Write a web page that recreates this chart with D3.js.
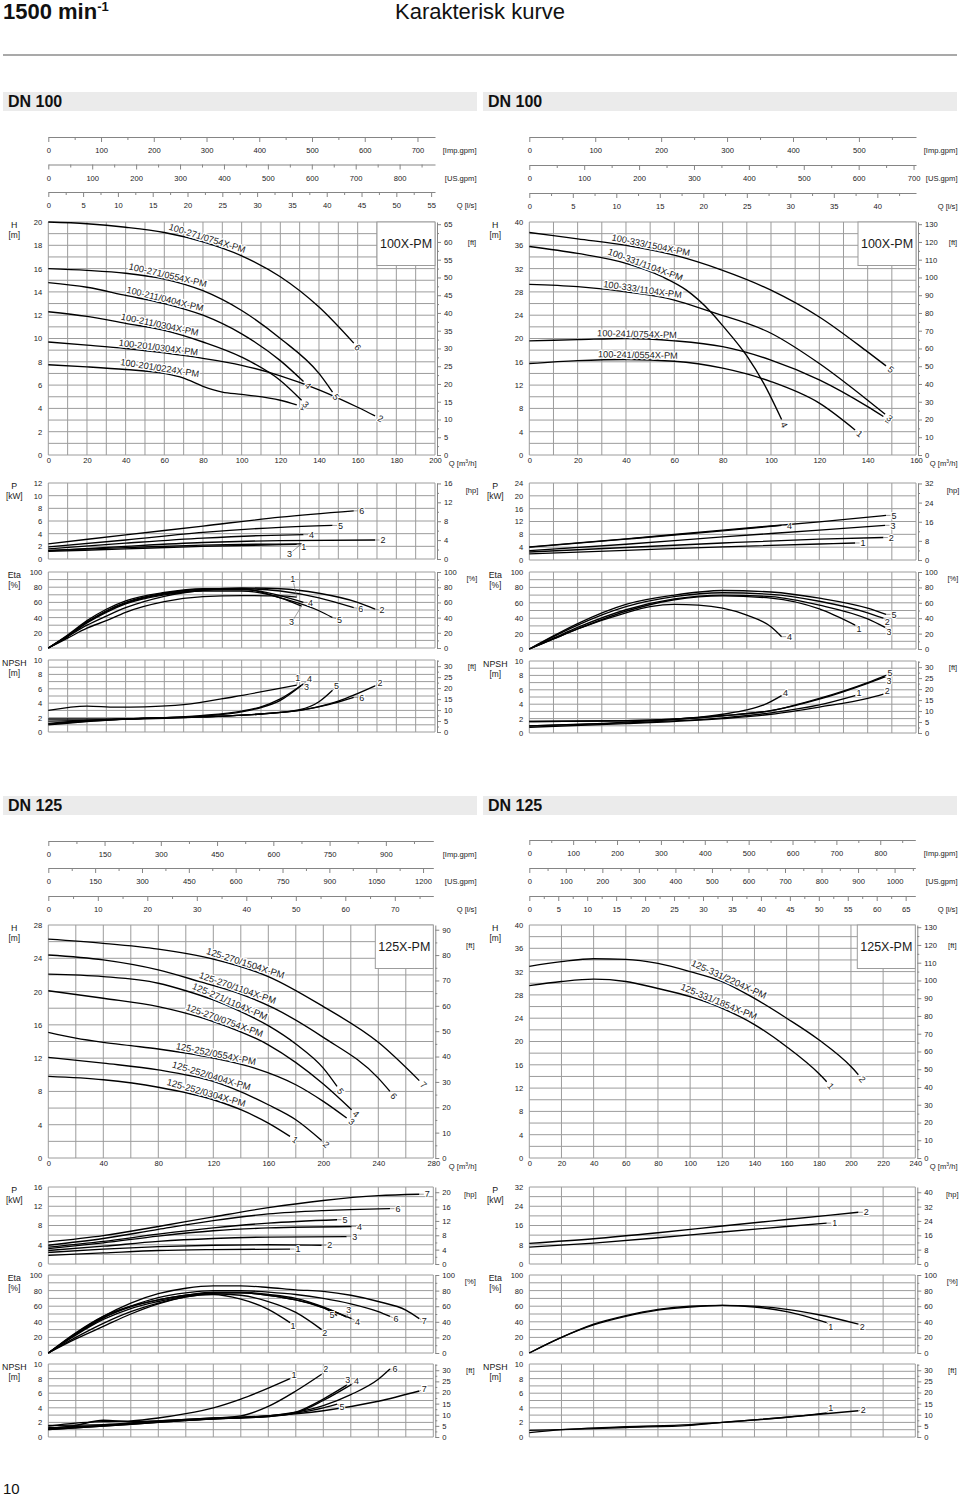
<!DOCTYPE html>
<html><head><meta charset="utf-8">
<script src="https://cdn.jsdelivr.net/npm/d3@7"></script>
<style>
body{margin:0;background:#fff;}
svg{display:block;font-family:"Liberation Sans",Arial,sans-serif;}
</style></head><body>
<svg id="c" width="960" height="1497"></svg>
<script>
// ================= DATA =================
// DN 100 left (Q in m3/h)
const dn100L_ids = [1,2,3,4,5,6];
const dn100L_names = ["100-201/0224X-PM","100-201/0304X-PM","100-211/0304X-PM","100-211/0404X-PM","100-271/0554X-PM","100-271/0754X-PM"];
const dn100L_H = [
 [[0,7.75],[20,7.57],[40,7.34],[60,7.0],[70,6.6],[80,5.9],[90,5.4],[100,5.2],[120,4.7],[128.5,4.3]],
 [[0,9.7],[20,9.43],[40,9.14],[60,8.77],[80,8.3],[100,7.7],[120,6.8],[140,5.6],[160,4.1],[169,3.35]],
 [[0,12.3],[20,11.9],[40,11.3],[60,10.7],[80,9.7],[100,8.4],[120,6.4],[131,4.7]],
 [[0,14.8],[20,14.4],[40,13.7],[60,13.0],[80,12.0],[100,10.4],[120,8.1],[132,6.3]],
 [[0,16],[20,15.85],[40,15.6],[60,15.1],[80,14.1],[100,12.4],[120,10.0],[140,7.0],[147,5.4]],
 [[0,20],[20,19.85],[40,19.55],[60,19.1],[80,18.3],[100,17.1],[120,15.3],[140,12.7],[158,9.6]]
];
const dn100L_P = [
 [[0,1.2],[40,1.6],[80,2.0],[128.5,2.3]],
 [[0,1.3],[40,2.0],[80,2.6],[120,2.9],[169,3.0]],
 [[0,1.35],[40,1.8],[80,2.2],[131,2.4]],
 [[0,1.6],[40,2.5],[80,3.3],[110,3.7],[132,3.85]],
 [[0,1.9],[40,3.0],[80,4.2],[120,5.0],[147,5.3]],
 [[0,2.4],[40,3.8],[80,5.2],[120,6.6],[158,7.6]]
];
const dn100L_Eta = [
 [[0,0],[10,13],[20,26],[30,36],[40,47],[60,61],[80,67.5],[100,69],[120,68.5],[128.5,67]],
 [[0,0],[10,15],[20,30],[30,42],[40,53],[60,68],[80,76],[100,79],[120,78],[140,72],[160,60],[169,51]],
 [[0,0],[10,15],[20,33],[30,47],[40,58],[60,70],[80,75],[100,75],[120,66],[131,55]],
 [[0,0],[10,16],[20,34],[30,49],[40,60],[60,72],[80,77],[100,77],[120,69],[132,60]],
 [[0,0],[10,17],[20,36],[30,51],[40,62],[60,73],[80,78],[100,78],[120,66],[140,49],[147,40]],
 [[0,0],[10,16],[20,34],[30,48],[40,59],[60,71],[80,76],[100,78],[120,75],[140,66],[158,53]]
];
const dn100L_NPSH = [
 [[0,3.0],[20,3.6],[35,3.45],[50,3.5],[70,3.8],[96,4.9],[128.5,6.5]],
 [[0,1.0],[40,1.8],[80,2.1],[110,2.5],[130,3.0],[150,4.3],[169,6.4]],
 [[0,1.5],[20,1.6],[40,1.8],[60,2.0],[80,2.2],[100,2.8],[110,3.4],[120,4.4],[131,6.5]],
 [[0,1.2],[20,1.6],[40,1.8],[60,2.0],[80,2.3],[100,2.9],[110,3.5],[120,4.6],[132,6.7]],
 [[0,1.1],[40,1.8],[80,2.1],[110,2.5],[130,3.1],[140,4.2],[147,5.8]],
 [[0,1.8],[40,1.8],[80,2.1],[110,2.5],[130,3.0],[145,3.8],[158,4.8]]
];

// DN 100 right
const dn100R_ids = [1,2,3,4,5];
const dn100R_names = ["100-241/0554X-PM","100-241/0754X-PM","100-333/1104X-PM","100-331/1104X-PM","100-333/1504X-PM"];
const dn100R_H = [
 [[0,15.7],[20,16.2],[40,16.4],[60,16.1],[80,14.9],[100,12.6],[120,8.9],[134.8,4.3]],
 [[0,19.6],[20,19.8],[40,20.0],[60,19.6],[80,18.6],[100,16.3],[120,12.9],[140,8.3],[146.5,6.6]],
 [[0,29.3],[20,28.9],[40,28.0],[60,26.6],[75,24.6],[100,20.9],[120,15.7],[140,9.4],[147.2,7.0]],
 [[0,35.8],[20,34.6],[40,32.9],[55,30.6],[65,28.3],[75,24.6],[80,22.2],[90,17.0],[97,12.3],[104.4,6.1]],
 [[0,38.2],[20,37.1],[40,36.0],[60,34.3],[80,31.7],[100,28.3],[120,23.7],[140,17.7],[147.6,15.3]]
];
const dn100R_P = [
 [[0,1.9],[40,3.0],[80,4.1],[120,5.0],[134.8,5.3]],
 [[0,2.5],[40,3.9],[80,5.3],[120,6.5],[146.5,7.0]],
 [[0,2.9],[40,4.9],[80,7.2],[120,9.3],[147.2,10.8]],
 [[0,4.0],[40,6.5],[80,9.1],[104.4,10.8]],
 [[0,4.1],[40,6.6],[80,9.3],[120,11.9],[147.6,13.9]]
];
const dn100R_Eta = [
 [[0,0],[10,13],[20,26],[40,49],[60,64],[80,69],[100,66],[120,52],[134.8,31]],
 [[0,0],[10,16],[20,31],[40,55],[60,68],[80,73],[100,71],[120,62],[140,47],[146.5,40]],
 [[0,0],[10,14],[20,28],[40,51],[60,65],[80,70],[100,68],[120,57],[140,39],[147.2,28]],
 [[0,0],[10,13],[20,26],[40,47],[50,55],[60,58],[70,57],[80,53],[90,44],[100,29],[104.4,16]],
 [[0,0],[10,17],[20,33],[40,58],[60,70],[80,76],[100,74],[120,66],[140,53],[147.6,45]]
];
const dn100R_NPSH = [
 [[0,1.0],[40,1.4],[80,2.1],[100,2.8],[120,3.9],[134.8,5.2]],
 [[0,0.8],[40,1.3],[80,2.0],[100,2.6],[120,3.6],[140,4.8],[146.5,5.4]],
 [[0,1.6],[40,1.7],[80,2.4],[100,3.1],[120,4.7],[140,6.9],[147.2,7.8]],
 [[0,1.0],[40,1.5],[80,2.6],[90,3.2],[97,3.9],[104.4,5.2]],
 [[0,1.6],[40,1.7],[80,2.4],[100,3.1],[120,4.8],[140,7.0],[147.6,8.0]]
];

// DN 125 left
const dn125L_ids = [1,2,3,4,5,6,7];
const dn125L_names = ["125-252/0304X-PM","125-252/0404X-PM","125-252/0554X-PM","125-270/0754X-PM","125-271/1104X-PM","125-270/1104X-PM","125-270/1504X-PM"];
const dn125L_H = [
 [[0,9.8],[40,9.4],[80,8.5],[120,7.0],[140,5.8],[160,4.2],[175.8,2.6]],
 [[0,12.1],[40,11.4],[80,10.6],[120,9.2],[160,6.4],[180,4.6],[198.8,2.1]],
 [[0,15.1],[20,14.4],[40,13.9],[60,13.5],[80,13.1],[100,12.6],[120,12.0],[150,10.8],[180,8.8],[200,6.8],[217,4.8]],
 [[0,20.1],[40,19.2],[80,18.2],[120,16.4],[160,13.6],[200,8.9],[220.6,5.8]],
 [[0,22.1],[40,21.8],[80,21.0],[100,20.1],[120,19.0],[140,17.6],[160,15.9],[180,13.7],[200,10.8],[210,8.6]],
 [[0,24.4],[40,23.8],[80,22.6],[110,21.2],[140,19.7],[164,18.0],[200,14.5],[240,9.6],[248.5,8.0]],
 [[0,26.3],[40,25.8],[80,25.1],[120,23.9],[160,21.8],[200,18.2],[240,13.9],[269.8,9.3]]
];
const dn125L_P = [
 [[0,1.8],[40,2.3],[80,2.8],[120,3.0],[175.8,3.1]],
 [[0,2.4],[40,3.1],[80,3.6],[120,3.9],[160,4.0],[198.8,3.9]],
 [[0,2.8],[40,3.7],[80,4.7],[120,5.3],[160,5.6],[217,5.7]],
 [[0,3.2],[40,4.4],[80,5.8],[120,6.9],[160,7.5],[220.6,7.8]],
 [[0,3.5],[40,4.7],[80,6.2],[120,7.5],[160,8.5],[210,9.2]],
 [[0,3.9],[40,5.3],[80,7.2],[120,9.0],[160,10.4],[200,11.1],[248.5,11.5]],
 [[0,4.6],[40,5.9],[80,7.8],[120,9.8],[160,11.7],[200,13.2],[240,14.2],[269.8,14.5]]
];
const dn125L_Eta = [
 [[0,0],[20,18],[40,34],[60,50],[80,63],[100,72],[120,75],[140,69],[160,56],[175.8,39]],
 [[0,0],[20,20],[40,38],[60,53],[80,64],[100,72],[120,76],[140,74],[160,66],[180,52],[198.8,30]],
 [[0,0],[20,24],[40,45],[60,59],[80,68],[100,74],[120,78],[140,78],[160,75],[180,70],[200,59],[217,46]],
 [[0,0],[20,23],[40,43],[60,57],[80,66],[100,73],[120,77],[140,77],[160,74],[180,68],[200,58],[220.6,44]],
 [[0,0],[20,26],[40,47],[60,60],[80,68],[100,74],[120,77],[140,77],[160,74],[180,68],[200,58],[210,48]],
 [[0,0],[20,24],[40,45],[60,60],[80,71],[100,77],[120,80],[140,80],[160,78],[180,75],[200,70],[220,63],[240,53],[248.5,47]],
 [[0,0],[20,25],[40,47],[60,64],[80,76],[100,83],[120,86],[140,86],[160,84],[180,81],[200,79],[220,74],[240,66],[260,55],[269.8,44]]
];
const dn125L_NPSH = [
 [[0,1.5],[20,1.9],[40,2.1],[60,2.2],[80,2.6],[100,3.2],[120,4.0],[140,5.2],[160,6.7],[175.8,8.0]],
 [[0,1.2],[20,1.6],[40,2.3],[60,2.1],[80,2.2],[100,2.4],[120,2.6],[140,2.9],[160,4.2],[180,6.3],[198.8,8.6]],
 [[0,1.1],[40,1.6],[80,2.1],[120,2.5],[160,2.8],[180,3.4],[200,5.2],[217,7.1]],
 [[0,1.0],[40,1.5],[80,2.0],[120,2.5],[160,2.8],[180,3.3],[200,5.0],[220.6,7.2]],
 [[0,1.0],[40,1.5],[80,2.0],[120,2.5],[160,2.9],[180,3.3],[200,4.0],[210,4.5]],
 [[0,1.3],[40,1.6],[80,2.1],[120,2.5],[160,2.9],[180,3.4],[200,4.3],[220,5.8],[240,7.9],[248.5,9.3]],
 [[0,1.6],[40,1.7],[80,2.2],[120,2.6],[160,2.9],[200,3.6],[240,4.9],[269.8,6.3]]
];

// DN 125 right
const dn125R_ids = [1,2];
const dn125R_names = ["125-331/1854X-PM","125-331/2204X-PM"];
const dn125R_H = [
 [[0,29.6],[20,30.3],[40,30.7],[60,30.3],[80,29.1],[100,27.7],[120,25.7],[140,22.9],[160,19.1],[180,14.5],[184.9,13.1]],
 [[0,32.9],[20,33.7],[40,34.2],[60,34.1],[80,33.4],[100,32.0],[120,30.3],[140,27.4],[160,24.0],[180,20.3],[200,15.7],[204.6,14.3]]
];
const dn125R_P = [
 [[0,7.0],[40,8.7],[80,10.9],[120,13.3],[160,15.6],[184.9,17.0]],
 [[0,8.6],[40,10.5],[80,13.0],[120,15.8],[160,18.5],[204.6,21.5]]
];
const dn125R_Eta = [
 [[0,0],[20,20],[40,36],[60,47],[80,55],[100,59],[120,61],[140,59],[160,53],[184.9,39]],
 [[0,0],[20,20],[40,37],[60,48],[80,56],[100,60],[120,61],[140,60],[160,56],[180,49],[204.6,37]]
];
const dn125R_NPSH = [
 [[0,0.9],[20,1.0],[60,1.3],[100,1.6],[120,2.0],[160,2.7],[184.9,3.3]],
 [[0,0.6],[20,1.0],[60,1.4],[100,1.7],[120,2.0],[160,2.7],[204.6,3.6]]
];

// unit conversions
const FT = 3.28084, HP = 1.34102, IMP = 0.272765, USG = 0.227125, LS = 3.6;

// ================= LAYOUT =================
const svg = d3.select("#c");
const TXT = "#1a1a1a", GRID = "#9c9c9c", AX = "#858585";

function styleAxis(sel, fs) {
  sel.attr("font-family", null).attr("font-size", null);
  sel.selectAll("text").attr("font-size", fs || 7.6).attr("fill", TXT);
  sel.selectAll("line").attr("stroke", AX);
  sel.select(".domain").attr("stroke", AX);
}

function pointAtX(node, xt) {
  const L = node.getTotalLength();
  let lo = 0, hi = L;
  for (let i = 0; i < 40; i++) { const m = (lo + hi) / 2; if (node.getPointAtLength(m).x < xt) lo = m; else hi = m; }
  const p = node.getPointAtLength(lo);
  const a = node.getPointAtLength(Math.max(0, lo - 10)), b = node.getPointAtLength(Math.min(L, lo + 10));
  return {x: p.x, y: p.y, ang: Math.atan2(b.y - a.y, b.x - a.x) * 180 / Math.PI};
}

function drawChart(c) {
  const g = svg.append("g");
  const x = d3.scaleLinear().domain([0, c.qMax]).range([c.x0, c.x1]);
  const colR = c.x0 - 48.3 + 476.5;

  // --- top flow axes ---
  [[c.yImp, IMP, c.imp, "[Imp.gpm]"], [c.yUs, USG, c.us, "[US.gpm]"], [c.yLs, LS, c.ls, "Q [l/s]"]].forEach(([yy, f, st, lab]) => {
    const s = d3.scaleLinear().domain([0, c.qMax / f]).range([c.x0, c.x1]);
    const majors = d3.range(0, st[1] + 1e-6, st[0]);
    const minors = d3.range(st[0] / 2, c.qMax / f, st[0]);
    const a1 = g.append("g").attr("transform", `translate(0,${yy})`)
      .call(d3.axisBottom(s).tickValues(minors).tickSize(3).tickSizeOuter(0).tickFormat(""));
    styleAxis(a1);
    const a2 = g.append("g").attr("transform", `translate(0,${yy})`)
      .call(d3.axisBottom(s).tickValues(majors).tickSize(5).tickSizeOuter(0).tickPadding(6).tickFormat(d3.format("d")));
    styleAxis(a2);
    a2.select(".domain").remove();
    g.append("text").attr("x", colR).attr("y", yy + 16).attr("text-anchor", "end")
      .attr("font-size", 7.6).attr("fill", TXT).text(lab);
  });

  const panels = [
    {key: "H", top: c.hTop, bot: c.hBot, max: c.hMax, lbl: c.hLabel, grid: c.hGrid, rf: FT, rst: c.ft, runit: "[ft]", rdy: 23, t1: "H", t2: "[m]", data: c.H},
    {key: "P", top: c.pTop, bot: c.pBot, max: c.pMax, lbl: c.pLabel, grid: c.pGrid, rf: HP, rst: c.hp, runit: "[hp]", rdy: 10, t1: "P", t2: "[kW]", data: c.P},
    {key: "E", top: c.eTop, bot: c.eBot, max: 100, lbl: 20, grid: 10, rf: 1, rst: [20, 100], runit: "[%]", rdy: 9, t1: "Eta", t2: "[%]", data: c.E},
    {key: "N", top: c.nTop, bot: c.nBot, max: 10, lbl: 2, grid: 1, rf: FT, rst: [5, 30], runit: "[ft]", rdy: 9, t1: "NPSH", t2: "[m]", data: c.N}
  ];

  panels.forEach(p => {
    const y = d3.scaleLinear().domain([0, p.max]).range([p.bot, p.top]);
    const pg = g.append("g");
    // grid
    pg.selectAll("line.h").data(d3.range(0, p.max + 1e-6, p.grid)).join("line")
      .attr("x1", c.x0).attr("x2", c.x1).attr("y1", d => y(d)).attr("y2", d => y(d))
      .attr("stroke", GRID).attr("stroke-width", 1);
    pg.selectAll("line.v").data(d3.range(0, c.qMax + 1e-6, c.qGrid)).join("line")
      .attr("x1", d => x(d)).attr("x2", d => x(d)).attr("y1", p.bot).attr("y2", p.top)
      .attr("stroke", GRID).attr("stroke-width", 1);
    // left axis
    const la = pg.append("g").attr("transform", `translate(${c.x0},0)`)
      .call(d3.axisLeft(y).tickValues(d3.range(0, p.max + 1e-6, p.lbl)).tickSize(0).tickPadding(6).tickFormat(d3.format("d")));
    styleAxis(la);
    la.select(".domain").remove();
    // right axis
    const yr = d3.scaleLinear().domain([0, p.max * p.rf]).range([p.bot, p.top]);
    const ra1 = pg.append("g").attr("transform", `translate(${c.x1 + 2},0)`)
      .call(d3.axisRight(yr).tickValues(d3.range(p.rst[0] / 2, p.max * p.rf, p.rst[0])).tickSize(2).tickSizeOuter(0).tickFormat(""));
    styleAxis(ra1);
    const ra2 = pg.append("g").attr("transform", `translate(${c.x1 + 2},0)`)
      .call(d3.axisRight(yr).tickValues(d3.range(0, p.rst[1] + 1e-6, p.rst[0])).tickSize(4).tickSizeOuter(0).tickPadding(3).tickFormat(d3.format("d")));
    styleAxis(ra2);
    ra2.select(".domain").remove();
    // titles
    pg.append("text").attr("x", c.x0 - 34).attr("y", p.top + 6).attr("text-anchor", "middle")
      .attr("font-size", 8.8).attr("fill", TXT).text(p.t1);
    pg.append("text").attr("x", c.x0 - 34).attr("y", p.top + 16).attr("text-anchor", "middle")
      .attr("font-size", 8.4).attr("fill", TXT).text(p.t2);
    pg.append("text").attr("x", c.x1 + 37).attr("y", p.top + p.rdy).attr("text-anchor", "middle")
      .attr("font-size", 7.6).attr("fill", TXT).text(p.runit);

    // bottom axis for H
    if (p.key === "H") {
      const ba = pg.append("g").attr("transform", `translate(0,${p.bot})`)
        .call(d3.axisBottom(x).tickValues(d3.range(0, c.qMax + 1e-6, c.qLabel)).tickSize(0).tickPadding(3).tickFormat(d3.format("d")));
      styleAxis(ba);
      ba.select(".domain").remove();
      const qt = pg.append("text").attr("x", colR).attr("y", p.bot + 11).attr("text-anchor", "end")
        .attr("font-size", 7.6).attr("fill", TXT);
      qt.append("tspan").text("Q [m");
      qt.append("tspan").attr("font-size", 5).attr("dy", -3).text("3");
      qt.append("tspan").attr("dy", 3).text("/h]");
      // model box
      pg.append("rect").attr("x", c.x1 - 58).attr("y", p.top).attr("width", 58).attr("height", 43.5)
        .attr("fill", "#fff").attr("stroke", GRID);
      pg.append("text").attr("x", c.x1 - 29).attr("y", p.top + 26).attr("text-anchor", "middle")
        .attr("font-size", 12.5).attr("fill", TXT).text(c.box);
    }

    // curves
    const line = d3.line().x(d => x(d[0])).y(d => y(d[1])).curve(d3.curveMonotoneX);
    const paths = p.data.map(d => pg.append("path").attr("d", line(d)).attr("fill", "none")
      .attr("stroke", "#000").attr("stroke-width", 1.35).node());

    if (p.key === "H") {
      paths.forEach((node, i) => {
        const pt = pointAtX(node, x(c.nameQ[i]));
        pg.append("text").attr("transform", `translate(${pt.x},${pt.y}) rotate(${pt.ang})`)
          .attr("dy", -1.5).attr("text-anchor", "middle").attr("font-size", c.nameFs)
          .attr("fill", TXT).attr("stroke", "#fff").attr("stroke-width", 2.5)
          .attr("paint-order", "stroke").text(c.names[i]);
        const L = node.getTotalLength();
        const e = node.getPointAtLength(L), b = node.getPointAtLength(L - 6);
        const dx = (e.x - b.x) / 6, dy = (e.y - b.y) / 6;
        const ang = Math.atan2(dy, dx) * 180 / Math.PI;
        pg.append("text").attr("transform", `translate(${e.x + dx * 6},${e.y + dy * 6}) rotate(${ang})`)
          .attr("dy", "0.35em").attr("text-anchor", "middle").attr("font-size", 9)
          .attr("fill", TXT).attr("stroke", "#fff").attr("stroke-width", 2).attr("paint-order", "stroke")
          .text(c.ids[i]);
      });
    } else {
      const nud = (c.nudge[p.key]) || {};
      paths.forEach((node, i) => {
        const e = node.getPointAtLength(node.getTotalLength());
        const o = nud[c.ids[i]] || [8, 0];
        const len = Math.hypot(o[0], o[1]);
        const k = Math.max(0, (len - 3.5) / len);
        pg.append("line").attr("x1", e.x).attr("y1", e.y).attr("x2", e.x + o[0] * k).attr("y2", e.y + o[1] * k)
          .attr("stroke", "#777").attr("stroke-width", 0.7);
        pg.append("text").attr("x", e.x + o[0]).attr("y", e.y + o[1]).attr("dy", "0.35em")
          .attr("text-anchor", "middle").attr("font-size", 9).attr("fill", TXT)
          .attr("stroke", "#fff").attr("stroke-width", 2).attr("paint-order", "stroke").text(c.ids[i]);
      });
    }
  });
}

// ---- page header ----
const t = svg.append("text").attr("x", 3).attr("y", 18.5).attr("font-size", 22).attr("font-weight", "bold").attr("fill", "#111");
t.append("tspan").text("1500 min");
t.append("tspan").attr("font-size", 13).attr("dy", -8).text("-1");
svg.append("text").attr("x", 395).attr("y", 19).attr("font-size", 22).attr("fill", "#111").text("Karakterisk kurve");
svg.append("line").attr("x1", 3).attr("x2", 957).attr("y1", 55).attr("y2", 55).attr("stroke", "#555").attr("stroke-width", 1.2);

[[3, 92, "DN 100", 107.3], [483, 92, "DN 100", 107.3], [3, 796, "DN 125", 810.7], [483, 796, "DN 125", 810.7]].forEach(([bx, by, s, bl]) => {
  svg.append("rect").attr("x", bx).attr("y", by).attr("width", 474).attr("height", 19).attr("fill", "#ebebeb");
  svg.append("text").attr("x", bx + 5).attr("y", bl).attr("font-size", 16).attr("font-weight", "bold").attr("fill", "#111").text(s);
});
svg.append("text").attr("x", 3).attr("y", 1494).attr("font-size", 15).attr("fill", "#111").text("10");

// ---- charts ----
drawChart({x0: 48.3, x1: 435, qMax: 200, qGrid: 10, qLabel: 20, yImp: 137, yUs: 164.5, yLs: 192,
  imp: [100, 700], us: [100, 800], ls: [5, 55],
  hTop: 222, hBot: 455, hMax: 20, hLabel: 2, hGrid: 1, ft: [5, 65],
  pTop: 483, pBot: 559, pMax: 12, pLabel: 2, pGrid: 2, hp: [4, 16],
  eTop: 572, eBot: 648, nTop: 660, nBot: 732, box: "100X-PM", nameFs: 9.2,
  ids: dn100L_ids, names: dn100L_names, H: dn100L_H, P: dn100L_P, E: dn100L_Eta, N: dn100L_NPSH,
  nameQ: [57.3, 56.7, 57.2, 59.8, 61.3, 81.5],
  nudge: {P: {3: [-12, 10], 1: [7, 2]}, E: {1: [-4, -18], 3: [-10, 16], 2: [7, 1], 6: [7, 1], 5: [7, 2], 4: [7, 0]},
          N: {1: [1, -7], 4: [6, -5], 3: [5, 2], 5: [4, -4], 2: [5, -3]}}});

drawChart({x0: 529.3, x1: 916, qMax: 160, qGrid: 10, qLabel: 20, yImp: 137, yUs: 165, yLs: 193,
  imp: [100, 500], us: [100, 700], ls: [5, 40],
  hTop: 222, hBot: 455, hMax: 40, hLabel: 4, hGrid: 2, ft: [10, 130],
  pTop: 483, pBot: 560, pMax: 24, pLabel: 4, pGrid: 4, hp: [8, 32],
  eTop: 572, eBot: 649, nTop: 661, nBot: 733, box: "100X-PM", nameFs: 9.2,
  ids: dn100R_ids, names: dn100R_names, H: dn100R_H, P: dn100R_P, E: dn100R_Eta, N: dn100R_NPSH,
  nameQ: [44.9, 44.5, 46.6, 47.4, 49.9],
  nudge: {E: {2: [4, 4], 3: [4, 4], 1: [4, 4]}, N: {5: [4, -3], 3: [4, 4], 2: [4, -3], 1: [4, -3], 4: [4, -3]}}});

drawChart({x0: 48.3, x1: 433.3, qMax: 280, qGrid: 20, qLabel: 40, yImp: 841, yUs: 868, yLs: 896,
  imp: [150, 900], us: [150, 1200], ls: [10, 70],
  hTop: 925, hBot: 1158, hMax: 28, hLabel: 4, hGrid: 2, ft: [10, 90],
  pTop: 1187, pBot: 1264, pMax: 16, pLabel: 4, pGrid: 2, hp: [4, 20],
  eTop: 1275, eBot: 1353, nTop: 1364, nBot: 1437, box: "125X-PM", nameFs: 9.4,
  ids: dn125L_ids, names: dn125L_names, H: dn125L_H, P: dn125L_P, E: dn125L_Eta, N: dn125L_NPSH,
  nameQ: [114, 117.6, 121.2, 127, 130.7, 136.5, 142.3],
  nudge: {E: {3: [2, -7], 5: [-5, -1], 4: [6, 3], 1: [3, 3], 2: [3, 3], 6: [6, 3], 7: [5, 2]},
          N: {1: [4, -4], 2: [4, -5], 3: [1, -5], 4: [5, -4], 5: [5, 3], 6: [5, 0], 7: [5, -2]}}});

drawChart({x0: 529.3, x1: 915.3, qMax: 240, qGrid: 20, qLabel: 20, yImp: 840, yUs: 868, yLs: 896,
  imp: [100, 800], us: [100, 1000], ls: [5, 65],
  hTop: 925, hBot: 1158, hMax: 40, hLabel: 4, hGrid: 2, ft: [10, 130],
  pTop: 1187, pBot: 1264, pMax: 32, pLabel: 8, pGrid: 4, hp: [8, 40],
  eTop: 1275, eBot: 1353, nTop: 1364, nBot: 1437, box: "125X-PM", nameFs: 9.4,
  ids: dn125R_ids, names: dn125R_names, H: dn125R_H, P: dn125R_P, E: dn125R_Eta, N: dn125R_NPSH,
  nameQ: [116.7, 122.9],
  nudge: {E: {1: [4, 4], 2: [4, 3]}, N: {1: [4, -5], 2: [5, -1]}}});
</script>
</body></html>
